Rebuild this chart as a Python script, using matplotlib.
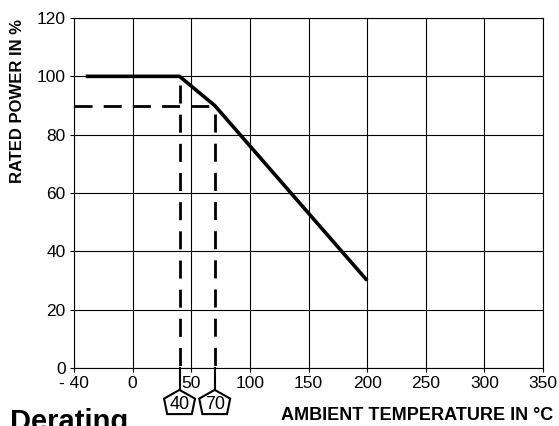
import numpy as np
import matplotlib.pyplot as plt
from matplotlib.patches import Polygon

plt.rcParams['font.family'] = ['Liberation Sans', 'DejaVu Sans']

# derating curve
temp = [-40, 40, 70, 200]
power = [100, 100, 90, 30]

# marked points
mark_temp = [40, 70]
mark_power = [100, 90]
ref_power = 90

x_ticks = [-50, 0, 50, 100, 150, 200, 250, 300, 350]
x_labels = ['- 40', '0', '50', '100', '150', '200', '250', '300', '350']
y_ticks = [0, 20, 40, 60, 80, 100, 120]

fig = plt.figure(figsize=(5.59, 4.26), dpi=100)
ax = fig.add_axes([74 / 559, 1 - 368 / 426, 469 / 559, 350 / 426])

ax.set_xlim(-50, 350)
ax.set_ylim(0, 120)
ax.set_xticks(x_ticks)
ax.set_xticklabels(x_labels)
ax.set_yticks(y_ticks)
ax.grid(True, color='black', linewidth=0.8)
ax.set_axisbelow(True)
for s in ax.spines.values():
    s.set_linewidth(0.8)
ax.tick_params(direction='out', length=3, width=0.8, labelsize=12.5, pad=3)

# reference dashes
dash = (0, (6.5, 4.0))
ax.plot([-50, mark_temp[1]], [ref_power, ref_power], color='black', lw=2, linestyle=dash)
for t, p in zip(mark_temp, mark_power):
    ax.plot([t, t], [p - 3, 0], color='black', lw=2, linestyle=dash)
    # solid lead below the axis to the pentagon tag
    ax.plot([t, t], [0, -7.5], color='black', lw=1.5, clip_on=False)
    shape = np.array([[0, -7.5], [13.2, -10.5], [10.5, -15.8], [-10.5, -15.8], [-13.2, -10.5]])
    poly = Polygon(shape + [t, 0], closed=True, facecolor='white', edgecolor='black',
                   lw=1.5, clip_on=False)
    ax.add_patch(poly)
    ax.text(t, -12.6, str(t), ha='center', va='center', fontsize=13)

ax.plot(temp, power, color='black', lw=2.6, solid_capstyle='butt')

fig.text(18 / 559, 1 - 101 / 426, 'RATED POWER IN %', rotation=90, ha='center', va='center',
         fontsize=12, fontweight='bold')
fig.text(553 / 559, 1 - 415 / 426, 'AMBIENT TEMPERATURE IN °C', ha='right', va='center',
         fontsize=13, fontweight='bold')
fig.text(10 / 559, 1 - 430 / 426, 'Derating', ha='left', va='baseline',
         fontsize=21, fontweight='bold')

fig.savefig('out.png', dpi=100)
